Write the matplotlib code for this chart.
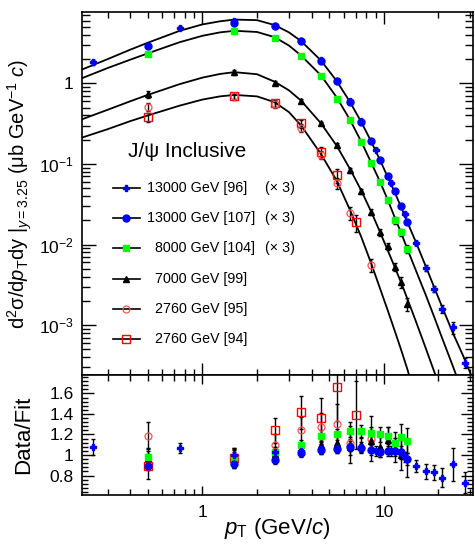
import numpy as np
import matplotlib
matplotlib.use("Agg")
import matplotlib.pyplot as plt
from matplotlib.ticker import LogLocator, NullFormatter, FuncFormatter, MultipleLocator

plt.rcParams['font.family'] = ['Liberation Sans', 'DejaVu Sans']
plt.rcParams['mathtext.fontset'] = 'custom'
plt.rcParams['mathtext.rm'] = 'Liberation Sans'
plt.rcParams['mathtext.it'] = 'Liberation Sans:italic'
plt.rcParams['mathtext.bf'] = 'Liberation Sans:bold'

# 13000 GeV [96] (x3), blue stars
pt_96 = [0.25, 0.75, 1.5, 2.5, 3.5, 4.5, 5.5, 6.5, 7.5, 9, 11, 13, 15, 17, 19, 21, 24, 28]
y_96 = [1.83, 4.87, 6.0, 5.2, 3.4, 1.95, 1.08, 0.60, 0.34, 0.151, 0.058, 0.0239,
        0.0105, 0.0051, 0.00284, 0.00159, 0.00094, 0.00034]
r_96 = [1.08, 1.07, 1.0, 1.03, 1.04, 1.06, 1.07, 1.09, 1.08, 1.04, 1.04, 0.98,
        0.89, 0.84, 0.83, 0.78, 0.91, 0.73]
e_96 = [0.08, 0.05, 0.05, 0.05, 0.05, 0.05, 0.05, 0.05, 0.05, 0.05, 0.05, 0.05,
        0.06, 0.07, 0.07, 0.09, 0.16, 0.10]

# 13000 GeV [107] (x3), blue circles
pt_107 = [0.5, 1.5, 2.5, 3.5, 4.5, 5.5, 6.5, 7.5, 8.5, 9.5, 10.5, 11.5, 12.5, 13.5]
y_107 = [2.89, 5.6, 5.1, 3.33, 1.92, 1.06, 0.59, 0.333, 0.192, 0.112, 0.071, 0.0466, 0.030, 0.019]
r_107 = [0.895, 0.91, 0.95, 1.02, 1.05, 1.06, 1.08, 1.07, 1.05, 1.03, 1.04, 1.04, 1.025, 0.96]
e_107 = [0.04, 0.04, 0.04, 0.04, 0.04, 0.04, 0.04, 0.04, 0.05, 0.05, 0.05, 0.05, 0.06, 0.06]

# 8000 GeV [104] (x3), green squares
pt_104 = [0.5, 1.5, 2.5, 3.5, 4.5, 5.5, 6.5, 7.5, 8.5, 9.5, 10.5, 11.5, 12.5, 13.5]
y_104 = [2.34, 4.43, 3.66, 2.17, 1.23, 0.648, 0.35, 0.187, 0.103, 0.060, 0.0353, 0.020, 0.0142, 0.0088]
r_104 = [0.98, 0.975, 1.03, 1.10, 1.19, 1.20, 1.23, 1.23, 1.21, 1.20, 1.19, 1.12, 1.18, 1.14]
e_104 = [0.06, 0.05, 0.05, 0.05, 0.05, 0.05, 0.05, 0.06, 0.06, 0.07, 0.08, 0.10, 0.12, 0.12]

# 7000 GeV [99], black triangles
pt_99 = [0.5, 1.5, 2.5, 3.5, 4.5, 5.5, 6.5, 7.5, 8.5, 9.5, 10.5, 11.5, 12.5, 13.5]
y_99 = [0.73, 1.38, 1.01, 0.60, 0.318, 0.171, 0.084, 0.046, 0.0254, 0.0142, 0.0095, 0.00527, 0.00344, 0.00184]
r_99 = [0.97, 1.0, 1.01, 1.06, 1.10, 1.12, 1.08, 1.10, 1.14, 1.08, 1.15, 1.05, 1.0, 0.97]
e_99 = [0.10, 0.07, 0.06, 0.06, 0.06, 0.07, 0.08, 0.08, 0.10, 0.10, 0.12, 0.12, 0.15, 0.18]

# 2760 GeV [95], red open circles
pt_95 = [0.5, 1.5, 2.5, 3.5, 4.5, 5.5, 6.5, 8.5]
y_95 = [0.51, 0.69, 0.55, 0.28, 0.131, 0.058, 0.0247, 0.0056]
r_95 = [1.19, 0.98, 1.10, 1.24, 1.27, 1.30, 1.12, 1.16]
e_95 = [0.13, 0.08, 0.10, 0.13, 0.14, 0.20, 0.20, 0.22]

# 2760 GeV [94], red open squares
pt_94 = [0.5, 1.5, 2.5, 3.5, 4.5, 5.5, 7]
y_94 = [0.38, 0.69, 0.57, 0.318, 0.140, 0.0728, 0.019]
r_94 = [0.89, 0.97, 1.24, 1.415, 1.36, 1.66, 1.39]
e_94 = [0.12, 0.10, 0.12, 0.16, 0.20, 0.33, 0.33]

# fit curves
pt_fit = [0.2, 0.3, 0.4, 0.5, 0.75, 1.0, 1.25, 1.5, 2.0, 2.5, 3.0, 3.5, 4.5, 5.5, 6.5, 7.5,
          8.5, 9.5, 10.5, 11.5, 12.5, 13.5, 15, 17, 19, 21, 24, 28, 32]
fit_13 = [1.38, 2.0, 2.62, 3.2, 4.5, 5.4, 5.9, 6.2, 6.1, 5.3, 4.3, 3.35, 1.93, 1.07, 0.59, 0.333,
          0.192, 0.113, 0.069, 0.044, 0.0285, 0.0188, 0.0108, 0.0054, 0.0029, 0.00166, 0.0008, 0.00037, 0.000175]
fit_8 = [1.08, 1.55, 1.97, 2.36, 3.25, 3.9, 4.3, 4.5, 4.35, 3.75, 2.95, 2.22, 1.26, 0.67, 0.355, 0.19,
         0.105, 0.061, 0.036, 0.0215, 0.0137, 0.0087, 0.0048, 0.00238, 0.00124, 0.00068, 0.00031, 0.00012, 0.00005]
fit_7 = [0.335, 0.47, 0.6, 0.72, 0.98, 1.18, 1.31, 1.38, 1.3, 1.05, 0.82, 0.61, 0.32, 0.168, 0.087, 0.047,
         0.0258, 0.0145, 0.0085, 0.0052, 0.0033, 0.0021, 0.00112, 0.00052, 0.00026, 0.000138, 0.00006, 0.00002, 0.000007]
fit_276 = [0.2, 0.27, 0.34, 0.40, 0.53, 0.63, 0.69, 0.72, 0.69, 0.585, 0.44, 0.30, 0.133, 0.062, 0.027, 0.0125,
           0.0059, 0.0029, 0.00153, 0.00084, 0.00048, 0.00028, 0.00012, 0.00005, 0.00002, 0.00001, 3e-6, 1e-6, 4e-7]

W, H = 475, 546
fig = plt.figure(figsize=(W / 100, H / 100), dpi=100)
ax = fig.add_axes([82 / W, 1 - 375 / H, 391 / W, 363 / H])
axr = fig.add_axes([82 / W, 1 - 495 / H, 391 / W, 120 / H])

for f in [fit_13, fit_8, fit_7, fit_276]:
    ax.plot(pt_fit, f, color='k', lw=1.3, zorder=2)

series = [
    (pt_94, y_94, r_94, e_94, dict(marker='s', mfc='none', mec='#ff0000', mew=1.0, ms=5.5)),
    (pt_95, y_95, r_95, e_95, dict(marker='o', mfc='none', mec='#ff5050', mew=0.9, ms=5)),
    (pt_99, y_99, r_99, e_99, dict(marker='^', mfc='k', mec='k', ms=4.5)),
    (pt_104, y_104, r_104, e_104, dict(marker='s', mfc='#00ff00', mec='#00ff00', ms=5)),
    (pt_107, y_107, r_107, e_107, dict(marker='o', mfc='#0000ff', mec='#0000ff', ms=5)),
    (pt_96, y_96, r_96, e_96, dict(marker='P', mfc='#0000ff', mec='#0000ff', ms=5)),
]

for x, y, r, e, st in series:
    x = np.array(x); y = np.array(y); r = np.array(r); e = np.array(e)
    ax.errorbar(x, y, yerr=y * e / r, fmt='none', ecolor='k', elinewidth=1, capsize=1.5, zorder=3)
    ax.plot(x, y, ls='none', zorder=4, **st)
    axr.errorbar(x, r, yerr=e, fmt='none', ecolor='k', elinewidth=1, capsize=1.5, zorder=3)
    axr.plot(x, r, ls='none', zorder=4, **st)

ax.set_xscale('log')
ax.set_yscale('log')
ax.set_xlim(0.217, 31)
ax.set_ylim(2.4e-4, 7.7)
axr.set_xscale('log')
axr.set_xlim(0.217, 31)
axr.set_ylim(0.61, 1.78)

ax.yaxis.set_major_locator(LogLocator(base=10, numticks=20))
ax.yaxis.set_minor_locator(LogLocator(base=10, subs=np.arange(2, 10), numticks=20))
ax.yaxis.set_minor_formatter(NullFormatter())
ax.yaxis.set_major_formatter(FuncFormatter(
    lambda v, p: '1' if abs(v - 1) < 1e-9 else r'$10^{%d}$' % round(np.log10(v))))
ax.xaxis.set_major_formatter(NullFormatter())
ax.xaxis.set_minor_formatter(NullFormatter())

axr.xaxis.set_major_formatter(FuncFormatter(lambda v, p: '%g' % v))
axr.xaxis.set_minor_formatter(NullFormatter())
axr.yaxis.set_major_locator(MultipleLocator(0.2))
axr.yaxis.set_minor_locator(MultipleLocator(0.04))
axr.yaxis.set_major_formatter(FuncFormatter(lambda v, p: '%g' % round(v, 2)))

for a in [ax, axr]:
    a.tick_params(which='both', direction='in', top=True, right=True, labelsize=12.5, width=1)
    for s in a.spines.values():
        s.set_linewidth(1.2)
ax.tick_params(axis='y', which='major', length=10, pad=6)
ax.tick_params(axis='y', which='minor', length=5.5)
ax.tick_params(axis='x', which='major', length=8.5)
ax.tick_params(axis='x', which='minor', length=4.5)
axr.tick_params(axis='y', which='major', length=8.5, pad=6)
axr.tick_params(axis='y', which='minor', length=4.5)
axr.tick_params(axis='x', which='major', length=6.5, pad=7)
axr.tick_params(axis='x', which='minor', length=4)

ax.set_ylabel('d$^{2}$σ/d$p_{\\mathrm{T}}$dy $|_{y=3.25}$ (μb GeV$^{-1}$ $c$)', fontsize=14.5)
axr.set_ylabel('Data/Fit', fontsize=16)
axr.set_xlabel('$p_{\\mathrm{T}}$ (GeV/$c$)', fontsize=16, labelpad=-3)
ax.yaxis.set_label_coords(-0.122, 0.5)
axr.yaxis.set_label_coords(-0.122, 0.5)

# legend drawn by hand
ax.text(0.2685, 0.615, 'J/ψ Inclusive', transform=ax.transAxes, fontsize=15, ha='center', va='center')
labels = ['13000 GeV [96]', '13000 GeV [107]', '  8000 GeV [104]', '  7000 GeV [99]',
          '  2760 GeV [95]', '  2760 GeV [94]']
scales = ['(× 3)', '(× 3)', '(× 3)', '', '', '']
rows = [0.515, 0.4325, 0.3485, 0.2645, 0.1818, 0.0978]
styles = [series[5][4], series[4][4], series[3][4], series[2][4], series[1][4], series[0][4]]
for lab, sc, yy, st in zip(labels, scales, rows, styles):
    ax.plot([0.0793, 0.148], [yy, yy], color='k', lw=1.2, transform=ax.transAxes, zorder=5)
    ax.plot([0.1138], [yy], transform=ax.transAxes, ls='none', zorder=6, **st)
    ax.text(0.166, yy, lab, transform=ax.transAxes, fontsize=10.3, va='center')
    if sc:
        ax.text(0.468, yy, sc, transform=ax.transAxes, fontsize=10.3, va='center')

fig.savefig('out.png', dpi=100)
